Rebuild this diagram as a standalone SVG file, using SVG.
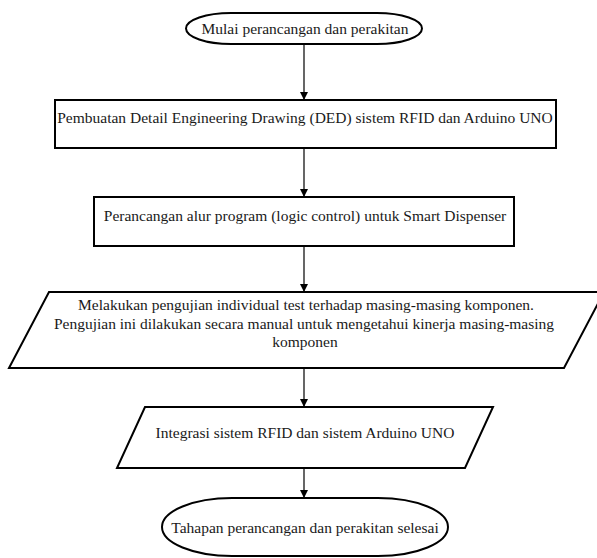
<svg xmlns="http://www.w3.org/2000/svg" width="597" height="558" viewBox="0 0 597 558">
<defs>
<style>
.shape{fill:#fff;stroke:#000;stroke-width:2}
.lbl{font-family:'Liberation Serif','Times New Roman','DejaVu Serif',serif;font-size:15.5px;fill:#1a1a1a;text-anchor:middle}
.conn{stroke:#000;stroke-width:1.2;fill:none;marker-end:url(#ah)}
</style>
<marker id="ah" markerWidth="8" markerHeight="8" refX="7" refY="4" orient="auto" markerUnits="userSpaceOnUse">
<path d="M0,0 L8,4 L0,8 Z" fill="#000"/>
</marker>
</defs>
<rect width="597" height="558" fill="#fff"/>
<g id="connectors">
<line class="conn" x1="304" y1="44" x2="304" y2="99"/>
<line class="conn" x1="304" y1="148" x2="304" y2="196"/>
<line class="conn" x1="304" y1="246" x2="304" y2="291"/>
<line class="conn" x1="304" y1="368" x2="304" y2="406"/>
<line class="conn" x1="304" y1="468" x2="304" y2="497"/>
</g>
<g id="start">
<rect class="shape" x="186" y="13" width="236" height="31" rx="45" ry="15.5"/>
<text class="lbl" x="305" y="34">Mulai perancangan dan perakitan</text>
</g>
<g id="ded">
<rect class="shape" x="55" y="100" width="501" height="48"/>
<text class="lbl" x="305" y="123">Pembuatan Detail Engineering Drawing (DED) sistem RFID dan Arduino UNO</text>
</g>
<g id="logic">
<rect class="shape" x="94" y="197" width="420" height="49"/>
<text class="lbl" x="305" y="221">Perancangan alur program (logic control) untuk Smart Dispenser</text>
</g>
<g id="test">
<polygon class="shape" points="49,292 604,292 564,368 9,368"/>
<text class="lbl" x="306" y="310">Melakukan pengujian individual test terhadap masing-masing komponen.</text>
<text class="lbl" x="304" y="329">Pengujian ini dilakukan secara manual untuk mengetahui kinerja masing-masing</text>
<text class="lbl" x="305" y="347">komponen</text>
</g>
<g id="integrasi">
<polygon class="shape" points="145,407 493,407 465,468 117,468"/>
<text class="lbl" x="305" y="438">Integrasi sistem RFID dan sistem Arduino UNO</text>
</g>
<g id="end">
<rect class="shape" x="162" y="498" width="286" height="58" rx="70" ry="29"/>
<text class="lbl" x="305" y="533">Tahapan perancangan dan perakitan selesai</text>
</g>
</svg>
